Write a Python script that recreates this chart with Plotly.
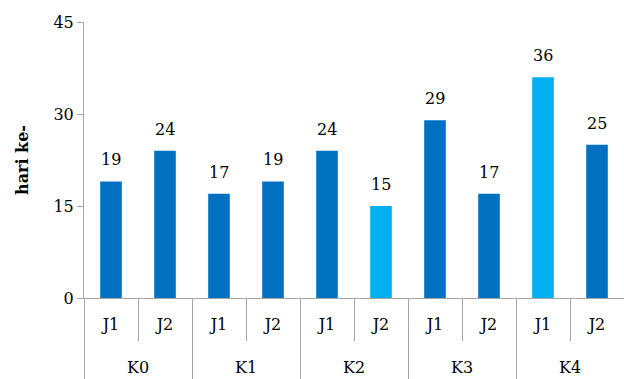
import plotly.graph_objects as go

groups = ["K0", "K1", "K2", "K3", "K4"]
subs = ["J1", "J2", "J1", "J2", "J1", "J2", "J1", "J2", "J1", "J2"]
values = [19, 24, 17, 19, 24, 15, 29, 17, 36, 25]
highlight = [False, False, False, False, False, True, False, False, True, False]
yticks = [0, 15, 30, 45]

DARK = "#0070C0"
LIGHT = "#00B0F0"
AXIS = "#A6A6A6"
FONT = "DejaVu Serif"
FS = 16

per_group = len(subs) // len(groups)
keys = [f"{groups[i // per_group]}-{s}" for i, s in enumerate(subs)]
colors = [LIGHT if h else DARK for h in highlight]
group_mid = [i + 0.5 for i in range(len(groups))]

fig = go.Figure()
fig.add_trace(go.Bar(
    x=keys, y=values,
    marker=dict(color=colors, line=dict(width=0)),
    width=0.4, hoverinfo="skip",
))
# empty carrier so the group axis gets drawn
fig.add_trace(go.Scatter(
    x=group_mid, y=[0] * len(groups), xaxis="x2", yaxis="y",
    mode="none", hoverinfo="skip", showlegend=False,
))

# value labels floating above each bar
for k, v in zip(keys, values):
    fig.add_annotation(
        x=k, y=v, text=str(v), showarrow=False,
        yanchor="bottom", yshift=10,
        font=dict(family=FONT, size=FS, color="#000000"),
    )

plot_h = 379 - 22
band = 81  # height of the two label rows under the bars

fig.update_layout(
    width=624, height=379,
    margin=dict(l=84, r=0, t=22, b=0, autoexpand=False),
    paper_bgcolor="white", plot_bgcolor="white",
    showlegend=False,
    font=dict(family=FONT, size=FS, color="#000000"),
    xaxis=dict(
        type="category", tickvals=keys, ticktext=subs,
        showline=True, linecolor=AXIS, linewidth=1,
        ticks="outside", tickson="boundaries", ticklen=42, tickcolor=AXIS,
        ticklabelstandoff=12,
        showgrid=False, anchor="y", automargin=False,
        tickfont=dict(family=FONT, size=FS, color="#000000"),
    ),
    # group row: labels centred on each pair, dividers at pair boundaries
    xaxis2=dict(
        overlaying="x", anchor="free", position=0, side="bottom",
        range=[0, len(groups)], automargin=False,
        tickmode="array", tickvals=group_mid, ticktext=groups,
        ticks="", ticklabelposition="inside",
        minor=dict(tickmode="array", tickvals=list(range(len(groups) + 1)),
                   ticks="inside", ticklen=band, tickcolor=AXIS, tickwidth=1),
        showline=False, showgrid=False, zeroline=False,
        tickfont=dict(family=FONT, size=FS, color="#000000"),
    ),
    yaxis=dict(
        domain=[band / plot_h, 1],
        range=[0, 45], tickvals=yticks, automargin=False,
        showline=True, linecolor=AXIS, linewidth=1,
        ticks="outside", ticklen=6, tickcolor=AXIS,
        showgrid=False, zeroline=False,
        tickfont=dict(family=FONT, size=FS, color="#000000"),
        title=dict(text="<b>hari ke-</b>", font=dict(family=FONT, size=FS, color="#000000"), standoff=20),
    ),
)

fig.write_html("out.html")
